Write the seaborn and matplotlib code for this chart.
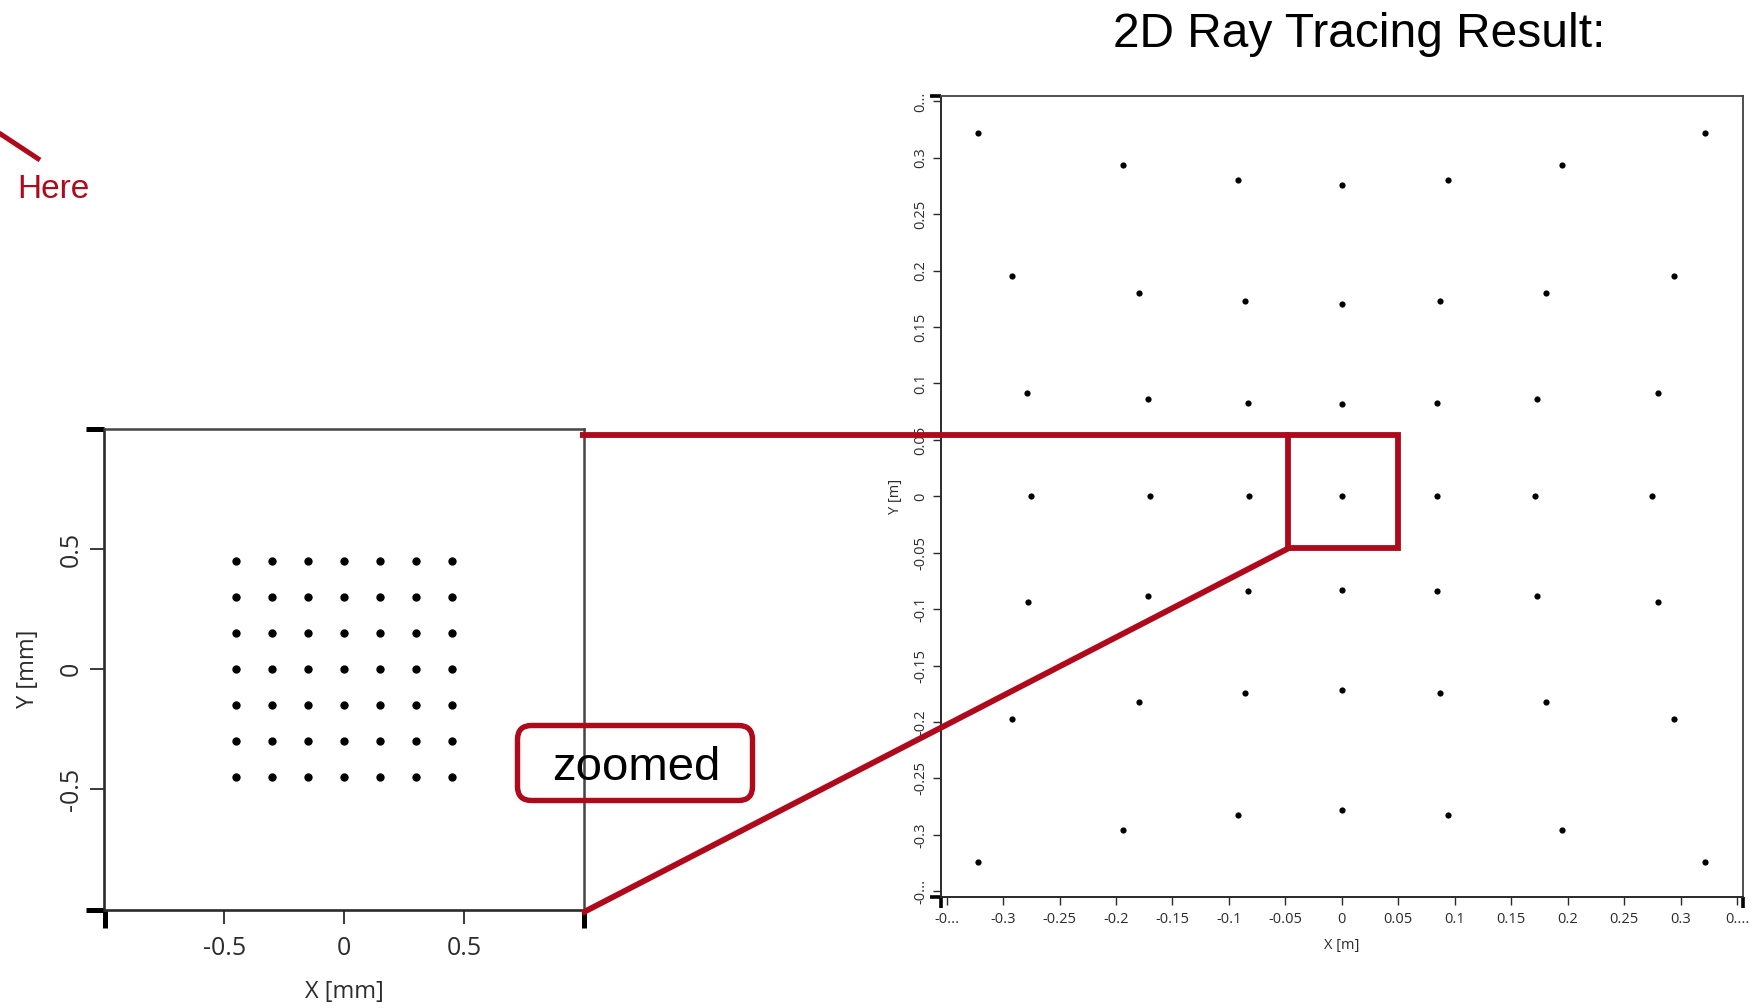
import numpy as np
import pandas as pd
import matplotlib
matplotlib.use("Agg")
import matplotlib.pyplot as plt
import seaborn as sns
from matplotlib.lines import Line2D
from matplotlib.patches import Rectangle, FancyBboxPatch

# ---------------- data ----------------
# left: source grid [mm]
grid_mm = [-0.45, -0.30, -0.15, 0.0, 0.15, 0.30, 0.45]
left_ticks = [-0.5, 0.0, 0.5]
left_tick_labels = ["-0.5", "0", "0.5"]

# right: 2D ray tracing spot positions [m], one list per row (top to bottom)
rt_x_rows = [
    [-0.322, -0.194, -0.092, 0.000, 0.094, 0.195, 0.322],
    [-0.292, -0.180, -0.086, 0.000, 0.087, 0.181, 0.294],
    [-0.279, -0.172, -0.083, 0.000, 0.084, 0.173, 0.280],
    [-0.275, -0.170, -0.082, 0.000, 0.084, 0.171, 0.275],
    [-0.278, -0.172, -0.083, 0.000, 0.084, 0.173, 0.280],
    [-0.292, -0.180, -0.086, 0.000, 0.087, 0.181, 0.294],
    [-0.322, -0.194, -0.092, 0.000, 0.094, 0.195, 0.322],
]
rt_y_rows = [
    [0.322, 0.294, 0.280, 0.276, 0.280, 0.294, 0.322],
    [0.195, 0.180, 0.173, 0.170, 0.173, 0.180, 0.195],
    [0.092, 0.086, 0.083, 0.082, 0.083, 0.086, 0.092],
    [0.000, 0.000, 0.000, 0.000, 0.000, 0.000, 0.000],
    [-0.094, -0.088, -0.084, -0.083, -0.084, -0.088, -0.094],
    [-0.197, -0.182, -0.174, -0.172, -0.174, -0.182, -0.197],
    [-0.324, -0.296, -0.282, -0.278, -0.282, -0.296, -0.324],
]
right_ticks = [-0.35, -0.3, -0.25, -0.2, -0.15, -0.1, -0.05, 0.0,
               0.05, 0.1, 0.15, 0.2, 0.25, 0.3, 0.35]
right_x_labels = ["-0...", "-0.3", "-0.25", "-0.2", "-0.15", "-0.1", "-0.05", "0",
                  "0.05", "0.1", "0.15", "0.2", "0.25", "0.3", "0...."]
right_y_labels = ["-0...", "-0.3", "-0.25", "-0.2", "-0.15", "-0.1", "-0.05", "0",
                  "0.05", "0.1", "0.15", "0.2", "0.25", "0.3", "0..."]

# ---------------- frames ----------------
gx, gy = np.meshgrid(grid_mm, grid_mm)
df_left = pd.DataFrame({"x": gx.ravel(), "y": gy.ravel()})
df_right = pd.DataFrame({
    "x": [v for row in rt_x_rows for v in row],
    "y": [v for row in rt_y_rows for v in row],
})

# ---------------- style ----------------
sns.set_theme(style="white")
CHART_FONT = ["Open Sans", "DejaVu Sans"]
SLIDE_FONT = ["Liberation Sans", "DejaVu Sans"]
plt.rcParams["font.family"] = CHART_FONT
RED = "#AE0A1C"
TXT = "#2b2b2b"

W, H = 1765, 1008
fig = plt.figure(figsize=(W / 100, H / 100), dpi=100)
fig.patch.set_facecolor("white")


def px(x, y):
    return x / 100.0, (H - y) / 100.0


def style_axes(ax, lim, major_len, major_w, corner_len, corner_w, tsize,
               xpad, ypad, spine_w):
    ax.set_xlim(-lim, lim)
    ax.set_ylim(-lim, lim)
    ax.set_facecolor("white")
    for side in ["left", "bottom"]:
        ax.spines[side].set_color("#2a2a2a")
        ax.spines[side].set_linewidth(spine_w)
    for side in ["top", "right"]:
        ax.spines[side].set_color("#454545")
        ax.spines[side].set_linewidth(spine_w * 0.95)
    ax.tick_params(which="major", direction="out", length=major_len,
                   width=major_w, color="#2a2a2a", labelsize=tsize,
                   labelcolor=TXT, bottom=True, left=True)
    ax.tick_params(axis="x", which="major", pad=xpad)
    ax.tick_params(axis="y", which="major", pad=ypad)
    ax.set_xticks([-lim, lim], minor=True)
    ax.set_yticks([-lim, lim], minor=True)
    ax.tick_params(which="minor", direction="out", length=corner_len,
                   width=corner_w, color="black", bottom=True, left=True)
    ax.grid(False)


# ---------------- left plot ----------------
ax1 = fig.add_axes([104.5 / W, (H - 909.5) / H, 479.5 / W, 480.5 / H])
sns.scatterplot(data=df_left, x="x", y="y", ax=ax1, color="black", s=36,
                linewidth=0, legend=False, zorder=3)
style_axes(ax1, 1.0, 10, 1.3, 13, 3.6, 18, 9, 5, 1.9)
ax1.set_xticks(left_ticks)
ax1.set_xticklabels(left_tick_labels)
ax1.set_yticks(left_ticks)
ax1.set_yticklabels(left_tick_labels)
for lab in ax1.get_yticklabels():
    lab.set_rotation(90)
    lab.set_va("center")
ax1.set_xlabel("X [mm]", fontsize=17, color=TXT)
ax1.set_ylabel("Y [mm]", fontsize=17, color=TXT)
ax1.xaxis.label.set_va("center")
ax1.yaxis.label.set_va("center")
ax1.xaxis.set_label_coords(0.5, -82 / 480.5)
ax1.yaxis.set_label_coords(-77 / 479.5, 0.5)

# ---------------- right plot ----------------
ax2 = fig.add_axes([941 / W, (H - 897) / H, 801.7 / W, 801.3 / H])
sns.scatterplot(data=df_right, x="x", y="y", ax=ax2, color="black", s=20,
                linewidth=0, legend=False, zorder=3)
style_axes(ax2, 0.355, 6, 1.0, 8, 2.6, 10.5, 5, 3, 1.4)
ax2.set_xticks(right_ticks)
ax2.set_xticklabels(right_x_labels)
ax2.set_yticks(right_ticks)
ax2.set_yticklabels(right_y_labels)
for lab in ax2.get_yticklabels():
    lab.set_rotation(90)
    lab.set_va("center")
ax2.set_xlabel("X [m]", fontsize=10.5, color=TXT)
ax2.set_ylabel("Y [m]", fontsize=10.5, color=TXT)
ax2.xaxis.label.set_va("center")
ax2.yaxis.label.set_va("center")
ax2.xaxis.set_label_coords(0.5, -48.6 / 801.3)
ax2.yaxis.set_label_coords(-46 / 801.7, 0.5)

# ---------------- slide annotations ----------------
T = fig.dpi_scale_trans
LW = 4.2

# title
fig.text(*px(1359, 47), "2D Ray Tracing Result:", transform=T,
         ha="center", va="baseline", fontsize=34.5, color="black",
         family=SLIDE_FONT)

# "Here" pointer
(x0, y0), (x1, y1) = px(-4, 131), px(40, 160)
fig.add_artist(Line2D([x0, x1], [y0, y1], transform=T, color=RED, lw=3.6,
                      solid_capstyle="butt", zorder=10))
fig.text(*px(17, 198), "Here", transform=T, ha="left", va="baseline",
         fontsize=24, color=RED, family=SLIDE_FONT)

# zoom connector lines
(a0, b0), (a1, b1) = px(580, 434.5), px(1290, 434.5)
fig.add_artist(Line2D([a0, a1], [b0, b1], transform=T, color=RED, lw=LW,
                      solid_capstyle="butt", zorder=10))
(a0, b0), (a1, b1) = px(582, 913), px(1290, 547.5)
fig.add_artist(Line2D([a0, a1], [b0, b1], transform=T, color=RED, lw=LW,
                      solid_capstyle="butt", zorder=10))

# zoom rectangle
rx, ry = px(1287.5, 547.5)
fig.add_artist(Rectangle((rx, ry), 110 / 100, 113 / 100, transform=T,
                         fill=False, edgecolor=RED, lw=LW, zorder=10,
                         joinstyle="miter"))

# "zoomed" box
bx, by = px(517.5, 800.5)
fig.add_artist(FancyBboxPatch((bx, by), 235 / 100, 75 / 100, transform=T,
                              boxstyle="round,pad=0,rounding_size=0.14",
                              fill=False, edgecolor=RED, lw=3.9, zorder=10))
fig.text(*px(636, 780), "zoomed", transform=T, ha="center", va="baseline",
         fontsize=34, color="black", family=SLIDE_FONT, zorder=11)

fig.savefig("out.png", dpi=100, facecolor="white")
